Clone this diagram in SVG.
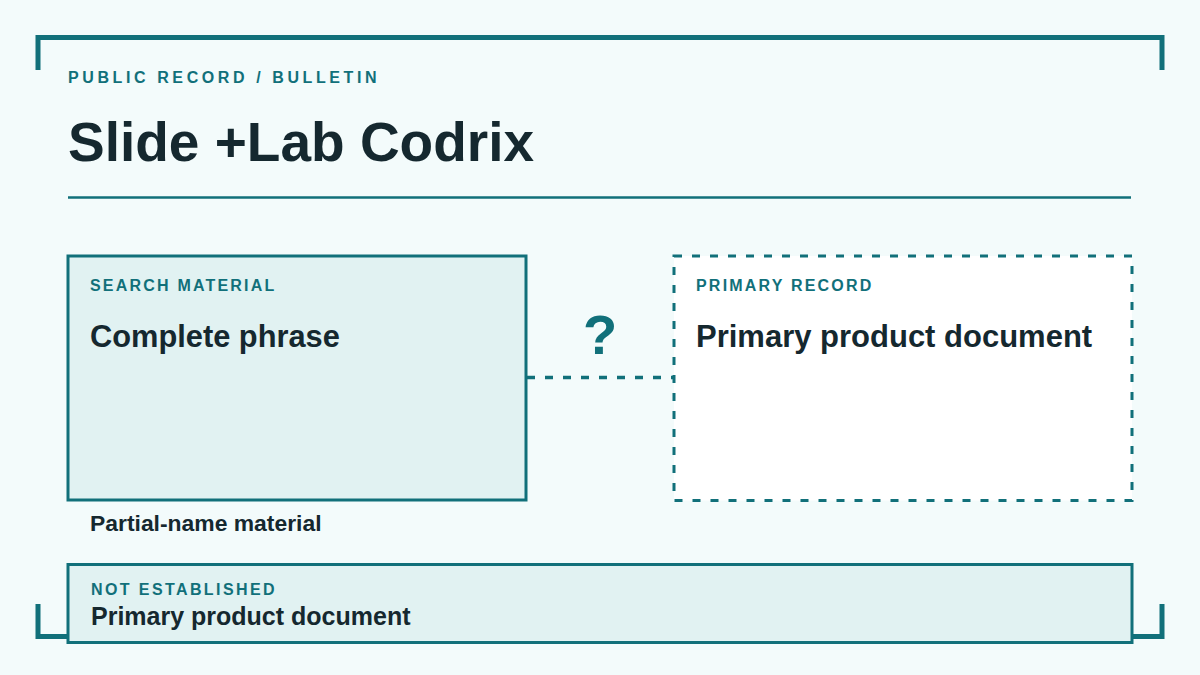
<svg xmlns="http://www.w3.org/2000/svg" width="1200" height="675" viewBox="0 0 1200 675">
  <defs>
    <style>
      text { font-family: "Liberation Sans", Arial, Helvetica, sans-serif; font-weight: 700; }
      .teal { fill: #11707a; }
      .dark { fill: #15282f; }
      .kicker { font-size: 16px; letter-spacing: 2.2px; fill: #11707a; }
      .frame { fill: none; stroke: #11707a; stroke-width: 5; stroke-linecap: butt; stroke-linejoin: miter; }
      .solidbox { fill: #e1f2f2; stroke: #11707a; stroke-width: 3; }
      .dashbox { fill: #ffffff; stroke: #11707a; stroke-width: 3; stroke-dasharray: 8 10; }
      .conn { fill: none; stroke: #11707a; stroke-width: 3.5; stroke-dasharray: 8 10; }
    </style>
  </defs>
  <rect x="0" y="0" width="1200" height="675" fill="#f3fbfb"/>

  <g id="frame">
    <path class="frame" d="M38 70 V37.5 H1162 V70"/>
    <path class="frame" d="M38 604 V636.5 H68"/>
    <path class="frame" d="M1132 636.5 H1162 V604"/>
    <line x1="68" y1="197.5" x2="1131" y2="197.5" stroke="#11707a" stroke-width="2.5"/>
  </g>

  <g id="header">
    <text x="68" y="82.5" class="kicker" style="letter-spacing:3.6px">PUBLIC RECORD / BULLETIN</text>
    <text x="68" y="161" class="dark" font-size="55">Slide +Lab Codrix</text>
  </g>

  <g id="connectors">
    <line class="conn" x1="527" y1="377.5" x2="673" y2="377.5"/>
    <text x="600" y="354" text-anchor="middle" class="teal" font-size="56">?</text>
  </g>

  <g id="search-material">
    <rect class="solidbox" x="68" y="256" width="458" height="244"/>
    <text x="90" y="290.7" class="kicker">SEARCH MATERIAL</text>
    <text x="90" y="346.7" class="dark" font-size="30.8">Complete phrase</text>
    <text x="90" y="530.5" class="dark" font-size="22.9">Partial-name material</text>
  </g>

  <g id="primary-record">
    <rect class="dashbox" x="674" y="256" width="458" height="244.5"/>
    <text x="696" y="290.7" class="kicker">PRIMARY RECORD</text>
    <text x="696" y="347" class="dark" font-size="31">Primary product document</text>
  </g>

  <g id="not-established">
    <rect class="solidbox" x="68" y="564.5" width="1064" height="78"/>
    <text x="91" y="595" class="kicker" style="letter-spacing:2.4px">NOT ESTABLISHED</text>
    <text x="91" y="625" class="dark" font-size="25">Primary product document</text>
  </g>
</svg>
